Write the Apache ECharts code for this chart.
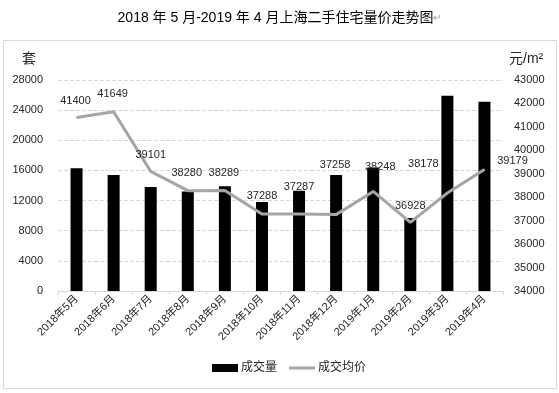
<!DOCTYPE html>
<html><head><meta charset="utf-8">
<script src="https://cdn.jsdelivr.net/npm/echarts@6/dist/echarts.min.js"></script>
<style>html,body{margin:0;padding:0;background:#fff}#c{width:559px;height:393px}</style>
</head><body><div id="c"></div>
<script>
var categories = ['2018年5月','2018年6月','2018年7月','2018年8月','2018年9月','2018年10月','2018年11月','2018年12月','2019年1月','2019年2月','2019年3月','2019年4月'];
var volume = [16300, 15400, 13800, 13200, 13900, 11800, 13300, 15400, 16400, 9700, 25900, 25100];
var avgPrice = [41400, 41649, 39101, 38280, 38289, 37288, 37287, 37258, 38248, 36928, 38178, 39179];
var leftTicks = {min: 0, max: 28000, interval: 4000};
var rightTicks = {min: 34000, max: 43000, interval: 1000};
// label nudges (style only): [dx, dy] from each point to label centre
var labelNudge = [[-1,-17],[-1,-18],[0,-17],[-1,-18],[-1,-18],[0,-18],[0,-27],[-1,-50],[7,-25],[0,-17],[-24,-30],[28,-9]];

var font = '"Liberation Sans","Noto Sans CJK SC",sans-serif';
var txt = '#262626';
var plain = function(v){ return String(v); };
var chart = echarts.init(document.getElementById('c'), null, {renderer:'canvas'});
chart.setOption({
  animation: false,
  textStyle: {fontFamily: font},
  title: {
    text: '2018 年 5 月-2019 年 4 月上海二手住宅量价走势图{r|↵}',
    left: 'center', top: 6,
    textStyle: {fontSize: 14, fontWeight: 'normal', color: '#000', fontFamily: font,
      rich: {r: {fontSize: 10, color: '#999', fontFamily: font}}}
  },
  graphic: [{type:'rect', shape:{x:3.5, y:40.5, width:553, height:348}, style:{fill:'none', stroke:'#d9d9d9', lineWidth:1}, z:-1}],
  grid: {left: 58, right: 56, top: 80, bottom: 102},
  legend: {
    bottom: 14, left: 207, itemGap: 12, itemWidth: 26, itemHeight: 8,
    symbolKeepAspect: true,
    textStyle: {fontSize: 12, color: txt, fontFamily: font, padding: [0, 0, 0, -2]},
    data: [{name:'成交量', icon:'rect'}, {name:'成交均价', icon:'path://M0,0L26,0L26,3L0,3Z'}]
  },
  xAxis: {
    type: 'category', data: categories,
    axisLine: {lineStyle: {color: '#d9d9d9'}},
    axisTick: {show: true, alignWithLabel: false, length: 4, lineStyle: {color: '#d9d9d9'}},
    axisLabel: {rotate: 45, fontSize: 11, color: txt, margin: 6, interval: 0, fontFamily: font}
  },
  yAxis: [{
    type: 'value', name: '套', min: leftTicks.min, max: leftTicks.max, interval: leftTicks.interval,
    nameLocation: 'end', nameGap: 14,
    nameTextStyle: {fontSize: 14, color: txt, align: 'right', padding: [0, 22, 0, 0]},
    axisLine: {show: false}, axisTick: {show: false},
    axisLabel: {fontSize: 11, color: txt, margin: 15, formatter: plain},
    splitLine: {lineStyle: {color: '#d9d9d9', type: 'dashed'}}
  }, {
    type: 'value', name: '元/m²', min: rightTicks.min, max: rightTicks.max, interval: rightTicks.interval,
    nameLocation: 'end', nameGap: 14,
    nameTextStyle: {fontSize: 14, color: txt, align: 'left', padding: [0, 0, 0, 6]},
    axisLine: {show: false}, axisTick: {show: false},
    axisLabel: {fontSize: 11, color: txt, margin: 11, formatter: plain},
    splitLine: {show: false}
  }],
  series: [{
    name: '成交量', type: 'bar', yAxisIndex: 0, data: volume,
    barWidth: 12, itemStyle: {color: '#000'}
  }, {
    name: '成交均价', type: 'line', yAxisIndex: 1,
    data: avgPrice.map(function(v, i){
      return {value: v, label: {offset: [labelNudge[i][0], labelNudge[i][1] + 6.5]}};
    }),
    symbol: 'circle', symbolSize: 1, showSymbol: true,
    itemStyle: {color: '#A5A5A5'},
    lineStyle: {color: '#A5A5A5', width: 3},
    label: {show: true, position: 'top', distance: 0, fontSize: 11, color: txt, fontFamily: font}
  }]
});
</script></body></html>
